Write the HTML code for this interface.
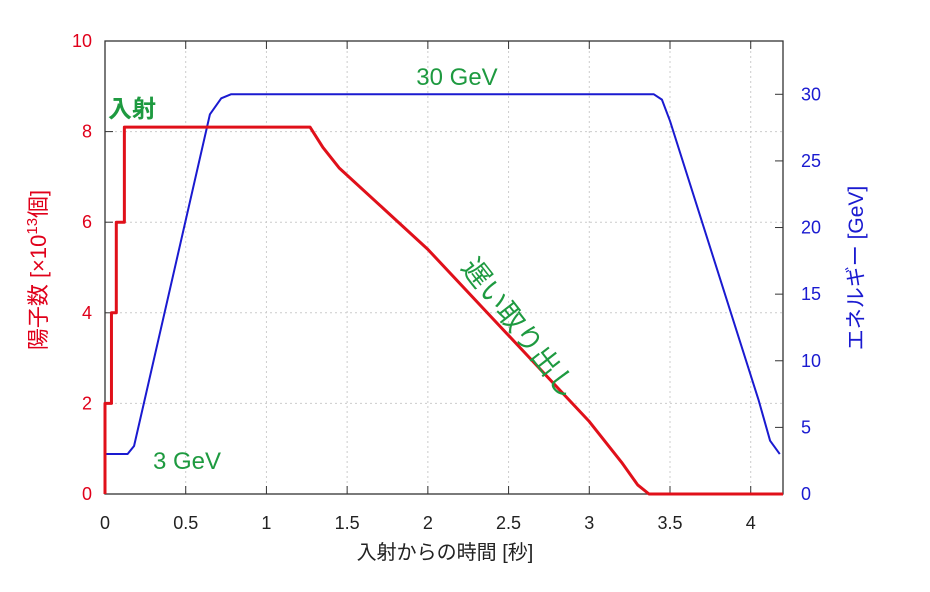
<!DOCTYPE html>
<html><head><meta charset="utf-8"><style>
body{margin:0;background:#fff}
svg text{font-family:"Liberation Sans","Noto Sans CJK JP",sans-serif}
</style></head><body>
<svg id="c" width="930" height="587" viewBox="0 0 930 587">
<g id="grid"></g>
<g id="axes"></g>
<g id="series"></g>
<text x="108" y="117" font-size="24" fill="#1e9a40" font-weight="bold">入射</text>
<text x="457" y="85" font-size="24" fill="#1e9a40" text-anchor="middle" font-family="Liberation Mono, monospace">30 GeV</text>
<text x="187" y="469" font-size="24" fill="#1e9a40" text-anchor="middle" font-family="Liberation Mono, monospace">3 GeV</text>
<text x="0" y="0" font-size="28" fill="#1e9a40" text-anchor="middle" transform="translate(512,334) rotate(52)">遅い取り出し</text>
<text x="0" y="0" font-size="22" fill="#e0001a" text-anchor="middle" transform="translate(46,270) rotate(-90)">陽子数 [×10<tspan font-size="15" dy="-9">13</tspan><tspan dy="9">個]</tspan></text>
<text x="0" y="0" font-size="21" fill="#1a1ad0" text-anchor="middle" transform="translate(863,268) rotate(-90)">エネルギー [GeV]</text>
<text x="445" y="559" font-size="20" fill="#222" text-anchor="middle">入射からの時間 [秒]</text>
</svg>
<script>
const xTicks=[0,0.5,1,1.5,2,2.5,3,3.5,4];
const xTickLabels=["0","0.5","1","1.5","2","2.5","3","3.5","4"];
const leftTicks=[0,2,4,6,8,10];
const rightTicks=[0,5,10,15,20,25,30];
const protonTime=[0,0,0.04,0.04,0.07,0.07,0.12,0.12,1.27,1.35,1.45,2.0,2.5,3.0,3.2,3.3,3.37,4.2];
const protonCount=[0,2,2,4,4,6,6,8.1,8.1,7.65,7.2,5.4,3.5,1.6,0.7,0.2,0,0];
const energyTime=[0,0.14,0.18,0.25,0.65,0.72,0.78,3.4,3.45,3.5,4.05,4.12,4.18];
const energyGeV=[3,3,3.6,7.3,28.5,29.7,30,30,29.6,28,7,4,3];
const L=105,R=783,T=41,B=494,XMAX=4.2,YMAX=10,EMAX=34;
const xs=t=>L+t/XMAX*(R-L), yl=v=>B-v/YMAX*(B-T), yr=v=>B-v/EMAX*(B-T);
const NS="http://www.w3.org/2000/svg";
function mk(tag,parent,attrs){const e=document.createElementNS(NS,tag);for(const k in attrs)e.setAttribute(k,attrs[k]);document.getElementById(parent).appendChild(e);return e;}
xTicks.forEach((t,i)=>{
 const x=xs(t);
 if(i>0){const g=mk('line','grid',{x1:x,x2:x,y1:T,y2:B,stroke:'#ccc','stroke-dasharray':'2,3'});
 
 }
 const a=mk('line','axes',{x1:x,x2:x,y1:B,y2:B-8,stroke:'#333'});
 
 
 const b=mk('line','axes',{x1:x,x2:x,y1:T,y2:T+8,stroke:'#333'});
 
 
 const l=mk('text','axes',{x:x,y:529,'font-size':18,'text-anchor':'middle',fill:'#222'});
 l.textContent=xTickLabels[i];
 
 
});
leftTicks.forEach(v=>{
 const y=yl(v);
 if(v>0&&v<10){const g=mk('line','grid',{x1:L,x2:R,y1:y,y2:y,stroke:'#ccc','stroke-dasharray':'2,3'});
 
 }
 const a=mk('line','axes',{x1:L,x2:L+8,y1:y,y2:y,stroke:'#333'});
 
 
 const l=mk('text','axes',{x:92,y:y+6,'font-size':18,'text-anchor':'end',fill:'#e0001a'});
 l.textContent=v;
 
 
});
rightTicks.forEach(v=>{
 const y=yr(v);
 const a=mk('line','axes',{x1:R-8,x2:R,y1:y,y2:y,stroke:'#333'});
 
 
 const l=mk('text','axes',{x:801,y:y+6,'font-size':18,fill:'#1a1ad0'});
 l.textContent=v;
 
 
});
const fr=mk('rect','axes',{x:L,y:T,width:R-L,height:B-T,fill:'none',stroke:'#333','stroke-width':1.3});


const e=mk('polyline','series',{points:energyTime.map((t,i)=>xs(t)+','+yr(energyGeV[i])).join(' '),fill:'none',stroke:'#1a1ad0','stroke-width':2,'stroke-linejoin':'round'});


const p=mk('polyline','series',{points:protonTime.map((t,i)=>xs(t)+','+yl(protonCount[i])).join(' '),fill:'none',stroke:'#e0101a','stroke-width':3,'stroke-linejoin':'round'});


</script>
</body></html>
